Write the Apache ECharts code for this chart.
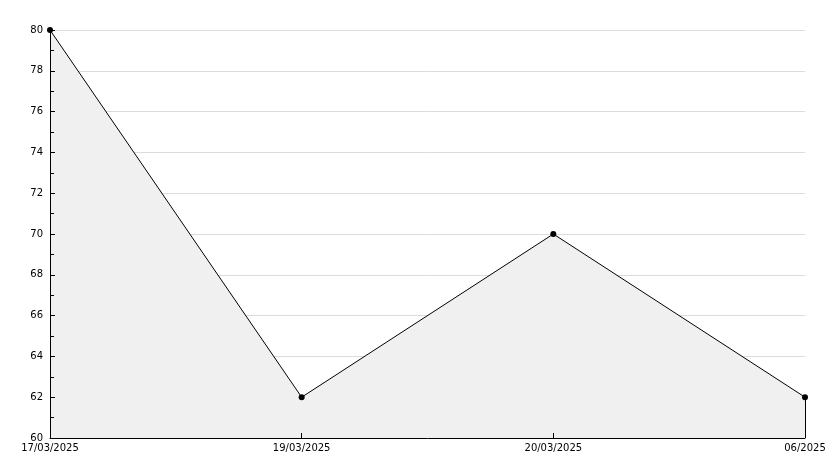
<!DOCTYPE html>
<html><head><meta charset="utf-8">
<script src="https://cdn.jsdelivr.net/npm/echarts@6/dist/echarts.min.js"></script>
<style>html,body{margin:0;padding:0;background:#fff;overflow:hidden}#c{width:834px;height:468px}</style>
</head><body><div id="c"></div>
<script>
const categories = ["17/03/2025", "19/03/2025", "20/03/2025", "06/2025"];
const values = [80, 62, 70, 62];
const yMin = 60, yMax = 80, yStep = 2;

const lastCat = categories[categories.length - 1];
const lastVal = values[values.length - 1];

const chart = echarts.init(document.getElementById('c'), null, {renderer: 'canvas'});
chart.setOption({
  animation: false,
  backgroundColor: '#ffffff',
  grid: {left: 50, right: 29, top: 30, bottom: 30, containLabel: false},
  xAxis: {
    type: 'category',
    data: categories,
    boundaryGap: false,
    z: 10,
    axisLine: {lineStyle: {color: '#000', width: 1}},
    axisTick: {show: true, inside: true, length: 5, lineStyle: {color: '#000'}},
    axisLabel: {color: '#000', fontFamily: 'DejaVu Sans', fontSize: 10, margin: 5},
    splitLine: {show: false}
  },
  yAxis: [{
    type: 'value',
    min: yMin, max: yMax, interval: yStep,
    z: 0,
    axisLine: {show: false},
    axisTick: {show: false},
    axisLabel: {show: false},
    splitLine: {show: true, lineStyle: {color: '#dcdcdc', width: 1}}
  }, {
    type: 'value',
    position: 'left',
    min: yMin, max: yMax, interval: yStep,
    z: 10,
    axisLine: {show: true, lineStyle: {color: '#000', width: 1}},
    axisTick: {show: true, inside: true, length: 5, lineStyle: {color: '#000'}},
    minorTick: {show: true, splitNumber: 2, length: 4, lineStyle: {color: '#000'}},
    axisLabel: {color: '#000', fontFamily: 'DejaVu Sans', fontSize: 10, margin: 7},
    splitLine: {show: false}
  }],
  series: [{
    type: 'line',
    yAxisIndex: 0,
    data: values,
    symbol: 'circle',
    symbolSize: 6,
    z: 5,
    itemStyle: {color: '#000'},
    lineStyle: {color: '#000', width: 1},
    areaStyle: {color: '#f0f0f0', opacity: 1},
    markLine: {
      silent: true,
      symbol: ['none', 'none'],
      label: {show: false},
      lineStyle: {color: '#000', width: 1, type: 'solid'},
      data: [[{coord: [lastCat, yMin]}, {coord: [lastCat, lastVal]}]]
    }
  }]
});
</script></body></html>
